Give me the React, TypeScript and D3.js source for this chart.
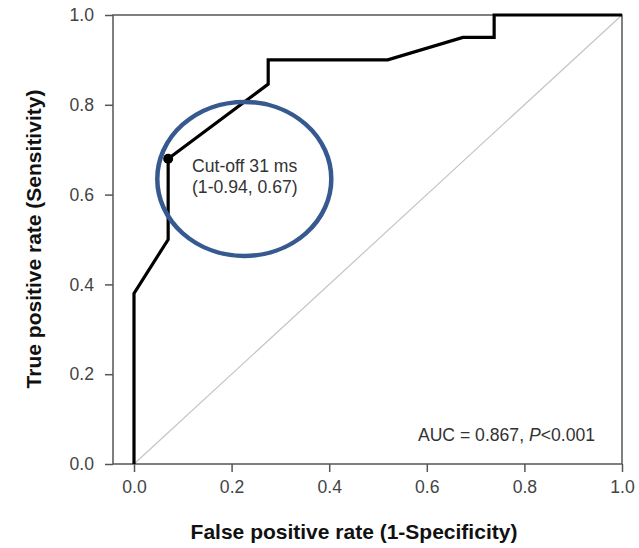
import { useEffect, useRef } from 'react';
import * as d3 from 'd3';

// ROC curve points
const fpr = [0, 0, 0.07, 0.07, 0.275, 0.275, 0.52, 0.674, 0.738, 0.738, 1.0];
const tpr = [0, 0.38, 0.5, 0.68, 0.846, 0.9, 0.9, 0.95, 0.95, 1.0, 1.0];

const cutoff = [0.07, 0.68];
const cutoffLabel = ['Cut-off 31 ms', '(1-0.94, 0.67)'];
const ticks = [0, 0.2, 0.4, 0.6, 0.8, 1.0];

const FONT = "'Liberation Sans', Arial, sans-serif";

const App = () => {
  const svgRef = useRef<SVGSVGElement>(null);

  useEffect(() => {
    document.body.style.margin = '0';
    const svg = d3.select(svgRef.current);
    svg.selectAll('*').remove();

    const width = 639, height = 548;
    const x = d3.scaleLinear().domain([0, 1]).range([134, 622]);
    const y = d3.scaleLinear().domain([0, 1]).range([464, 15]);
    const frameLeft = 113;

    svg.attr('width', width).attr('height', height);
    svg.append('rect').attr('width', width).attr('height', height).attr('fill', '#fff');

    // reference diagonal
    svg.append('line')
      .attr('x1', x(0)).attr('y1', y(0))
      .attr('x2', x(1)).attr('y2', y(1))
      .attr('stroke', '#c4c4c4').attr('stroke-width', 1.2);

    // frame
    svg.append('rect')
      .attr('x', frameLeft).attr('y', y(1))
      .attr('width', x(1) - frameLeft).attr('height', y(0) - y(1))
      .attr('fill', 'none').attr('stroke', '#555').attr('stroke-width', 1.5);

    // y axis
    const yAxis = svg.append('g')
      .attr('transform', `translate(${frameLeft},0)`)
      .call(d3.axisLeft(y).tickValues(ticks).tickFormat(d3.format('.1f')).tickSizeOuter(0).tickSize(8).tickPadding(11));
    yAxis.select('.domain').remove();
    yAxis.selectAll('line').attr('stroke', '#555').attr('stroke-width', 1.5);
    yAxis.selectAll('text').attr('font-family', FONT).attr('font-size', 17.6).attr('fill', '#444');

    // x axis
    const xAxis = svg.append('g')
      .attr('transform', `translate(0,${y(0)})`)
      .call(d3.axisBottom(x).tickValues(ticks).tickFormat(d3.format('.1f')).tickSizeOuter(0).tickSize(8).tickPadding(9));
    xAxis.select('.domain').remove();
    xAxis.selectAll('line').attr('stroke', '#555').attr('stroke-width', 1.5);
    xAxis.selectAll('text').attr('font-family', FONT).attr('font-size', 17.6).attr('fill', '#444');

    // ROC curve
    const line = d3.line<number>().x((d, i) => x(fpr[i])).y((d) => y(d));
    svg.append('path')
      .attr('d', line(tpr))
      .attr('fill', 'none').attr('stroke', '#000').attr('stroke-width', 3.2)
      .attr('stroke-linejoin', 'miter');

    svg.append('circle')
      .attr('cx', x(cutoff[0])).attr('cy', y(cutoff[1]))
      .attr('r', 5).attr('fill', '#000');

    // annotation ellipse
    svg.append('ellipse')
      .attr('cx', x(0.226)).attr('cy', y(0.635))
      .attr('rx', 87).attr('ry', 77)
      .attr('fill', 'none').attr('stroke', '#36598f').attr('stroke-width', 4.5);

    cutoffLabel.forEach((t, i) => {
      svg.append('text')
        .attr('x', 192).attr('y', 172 + i * 21)
        .attr('font-family', FONT).attr('font-size', 17.6).attr('fill', '#333')
        .text(t);
    });

    const auc = svg.append('text')
      .attr('x', 595).attr('y', 441).attr('text-anchor', 'end')
      .attr('font-family', FONT).attr('font-size', 17.6).attr('fill', '#333');
    auc.append('tspan').text('AUC = 0.867, ');
    auc.append('tspan').attr('font-style', 'italic').text('P');
    auc.append('tspan').text('<0.001');

    // axis titles
    svg.append('text')
      .attr('x', 354).attr('y', 539).attr('text-anchor', 'middle')
      .attr('font-family', FONT).attr('font-size', 21).attr('font-weight', 'bold').attr('fill', '#111')
      .text('False positive rate (1-Specificity)');

    svg.append('text')
      .attr('transform', `translate(41,239) rotate(-90)`).attr('text-anchor', 'middle')
      .attr('font-family', FONT).attr('font-size', 21).attr('font-weight', 'bold').attr('fill', '#111')
      .text('True positive rate (Sensitivity)');
  }, []);

  return <svg ref={svgRef} style={{ display: 'block' }}></svg>;
};

export default App;
